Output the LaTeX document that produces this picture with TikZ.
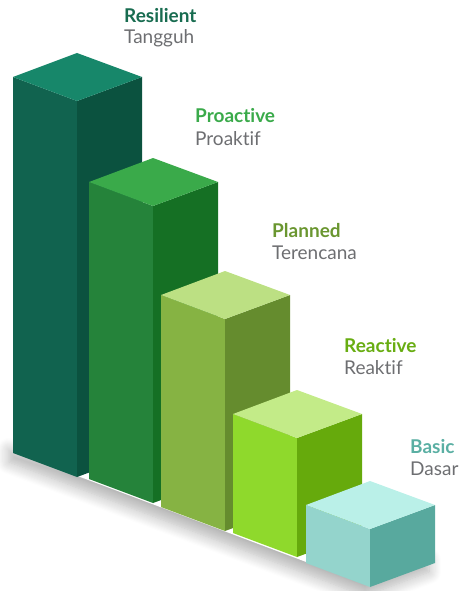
\documentclass[tikz,border=0pt]{standalone}
\usepackage{fontspec}
\setmainfont{Lato}[Ligatures=NoCommon]
\usepackage{tikz}
\usetikzlibrary{shadows.blur}
\definecolor{resTop}{HTML}{17876A}
\definecolor{resLeft}{HTML}{11634F}
\definecolor{resRight}{HTML}{0B523F}
\definecolor{proTop}{HTML}{3AAA4A}
\definecolor{proLeft}{HTML}{25833A}
\definecolor{proRight}{HTML}{157024}
\definecolor{plaTop}{HTML}{BCE083}
\definecolor{plaLeft}{HTML}{86B343}
\definecolor{plaRight}{HTML}{658C2E}
\definecolor{reaTop}{HTML}{C3EB88}
\definecolor{reaLeft}{HTML}{8FD92C}
\definecolor{reaRight}{HTML}{66AA0C}
\definecolor{basTop}{HTML}{BAF0E8}
\definecolor{basLeft}{HTML}{94D4CC}
\definecolor{basRight}{HTML}{58A99E}
\definecolor{resText}{HTML}{186C50}
\definecolor{plaText}{HTML}{6A9630}
\definecolor{reaText}{HTML}{68AD12}
\definecolor{basText}{HTML}{5AAFA3}
\definecolor{subText}{HTML}{6D6E71}
\tikzstyle{level_name}=[anchor=base west, inner sep=0pt, font=\fontsize{19}{21}\selectfont\bfseries]
\tikzstyle{level_sub}=[anchor=base west, inner sep=0pt, font=\fontsize{19}{21}\selectfont, text=subText]
% \isobox{front x}{front top y}{height}{top}{left}{right}
\newcommand{\isobox}[6]{
  \fill[#5] (#1,#2) -- (#1-64,#2-24) -- (#1-64,#2-24+#3) -- (#1,#2+#3) -- cycle;
  \fill[#6] (#1,#2) -- (#1+65,#2-24) -- (#1+65,#2-24+#3) -- (#1,#2+#3) -- cycle;
  \fill[#4] (#1,#2) -- (#1-64,#2-24) -- (#1,#2-48) -- (#1+65,#2-24) -- cycle;
}

\begin{document}
\begin{tikzpicture}[x=1pt, y=-1pt]
              \useasboundingbox (0,0) rectangle (459,591);
              % soft shadow along the foot of the steps
              \fill[white, blur shadow={shadow xshift=-5pt, shadow yshift=-10pt, shadow blur radius=12pt, shadow blur steps=12, shadow opacity=30}]
                (14,440) -- (14,452) -- (370,586) -- (434,562) -- (434,550) -- cycle;
              \isobox{77}{101}{376}{resTop}{resLeft}{resRight}
              \isobox{153}{206}{297}{proTop}{proLeft}{proRight}
              \isobox{225}{319}{212}{plaTop}{plaLeft}{plaRight}
              \isobox{297}{438}{119}{reaTop}{reaLeft}{reaRight}
              \isobox{370}{529}{58}{basTop}{basLeft}{basRight}
              \node[level_name, text=resText] (res) at (124,23){Resilient};
              \node[level_sub] (resSub) at (124,44){Tangguh};
              \node[level_name, text=proTop] (pro) at (195,123){Proactive};
              \node[level_sub] (proSub) at (195,145){Proaktif};
              \node[level_name, text=plaText] (pla) at (272,237){Planned};
              \node[level_sub] (plaSub) at (272,259){Terencana};
              \node[level_name, text=reaText] (rea) at (344,352){Reactive};
              \node[level_sub] (reaSub) at (344,374){Reaktif};
              \node[level_name, text=basText] (bas) at (410,453){Basic};
              \node[level_sub] (basSub) at (410,475){Dasar};
            \end{tikzpicture}
\end{document}
